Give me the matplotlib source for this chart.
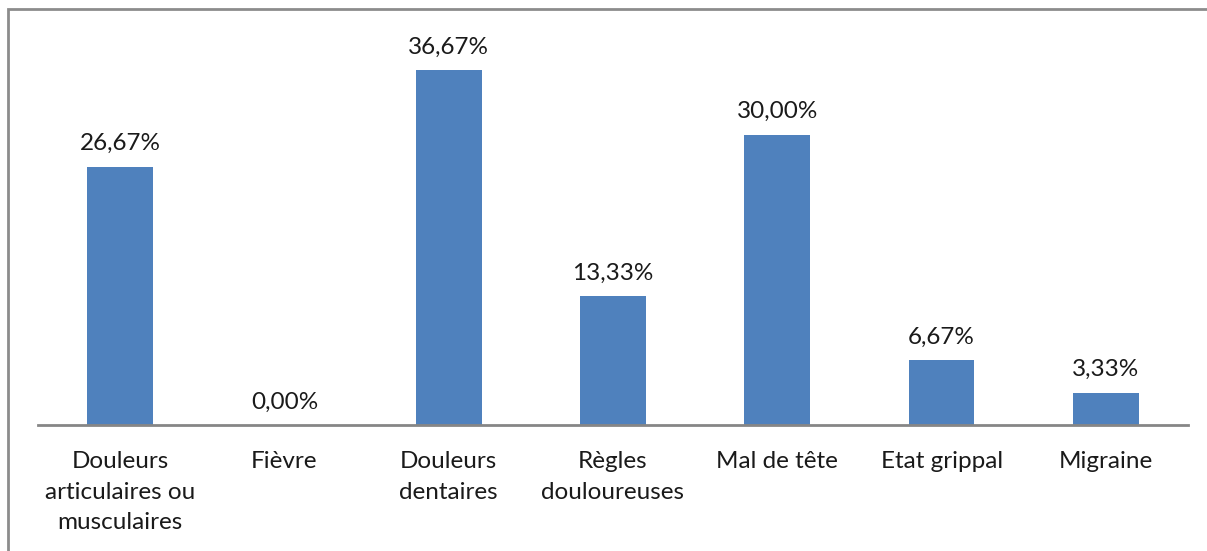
import matplotlib
matplotlib.use("Agg")
import matplotlib.pyplot as plt
from matplotlib.patches import Rectangle

categories = ["Douleurs\narticulaires ou\nmusculaires", "Fièvre", "Douleurs\ndentaires",
              "Règles\ndouloureuses", "Mal de tête", "Etat grippal", "Migraine"]
values = [26.67, 0.00, 36.67, 13.33, 30.00, 6.67, 3.33]

plt.rcParams['font.family'] = ['Lato', 'DejaVu Sans']

W, H = 1207, 551
fig = plt.figure(figsize=(W / 100, H / 100), dpi=100)

# chart frame (left and top edges visible, rest runs off the picture)
fig.patches.append(Rectangle((8 / W, -0.1), 1.2, 1 - 8.5 / H + 0.1, transform=fig.transFigure,
                             fill=False, edgecolor="#8c8c8c", linewidth=2.0))

ymax = 40.0
base_px = 425
top_px = base_px - ymax * (355 / 36.67)
ax = fig.add_axes([38 / W, 1 - base_px / H, 1150 / W, (base_px - top_px) / H])
ax.set_xlim(-0.5, len(categories) - 0.5)
ax.set_ylim(0, ymax)

x = range(len(categories))
bars = ax.bar(x, values, width=0.4, color="#4F81BD", zorder=2)
for xi, v in zip(x, values):
    ax.annotate(f"{v:.2f}%".replace(".", ","), (xi, v), xytext=(0, 9), textcoords="offset points",
                ha="center", va="bottom", fontsize=17.5, color="#1a1a1a")

for s in ["top", "right", "left"]:
    ax.spines[s].set_visible(False)
ax.spines["bottom"].set_color("#868686")
ax.spines["bottom"].set_linewidth(2)
ax.set_yticks([])
ax.set_xticks(list(x))
ax.set_xticklabels(categories, fontsize=17.5, color="#1a1a1a", linespacing=1.55)
ax.tick_params(axis="x", length=0, pad=19)

fig.savefig("out.png", dpi=100)
